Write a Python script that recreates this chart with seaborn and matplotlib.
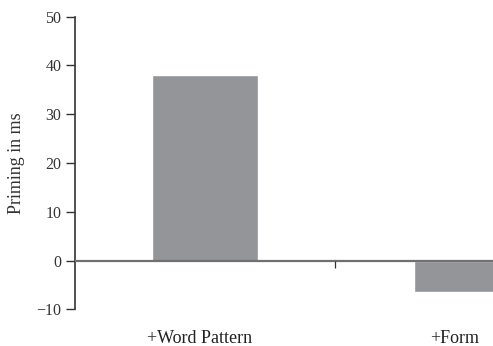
import pandas as pd
import matplotlib
matplotlib.use("Agg")
import matplotlib.pyplot as plt
import seaborn as sns

# Data
conditions = ["+Word Pattern", "+Form"]
priming_ms = [38.0, -6.4]
y_ticks = [-10, 0, 10, 20, 30, 40, 50]

df = pd.DataFrame({"condition": conditions, "priming": priming_ms})

sns.set_style("white")
plt.rcParams["font.family"] = ["Liberation Serif", "DejaVu Serif"]

fig = plt.figure(figsize=(4.93, 3.46), dpi=100)
ax = fig.add_axes([0.1515, 0.106, 0.8485, 0.846])

sns.barplot(data=df, x="condition", y="priming", color="#939598",
            saturation=1, width=0.405, ax=ax)

ax.axhline(0, color="#707070", lw=1.6, zorder=3)
# small divider tick on the zero line between the two conditions
ax.vlines(0.496, -1.5, 0, color="#333333", lw=0.9, zorder=3)

ax.set_xlim(-0.497, 1.099)
ax.set_ylim(-10, 50)
ax.set_yticks(y_ticks)
ax.set_yticklabels([str(t).replace("-", "\u2212") for t in y_ticks])
ax.set_xticks([-0.019, 0.954])
ax.set_xticklabels(conditions)

for s in ["top", "right", "bottom"]:
    ax.spines[s].set_visible(False)
ax.spines["left"].set_color("#333333")
ax.spines["left"].set_linewidth(1.2)

ax.tick_params(axis="y", length=6.5, width=1.0, color="#333333",
               labelsize=11.5, labelcolor="#333333", pad=3, left=True)
ax.tick_params(axis="x", length=0, pad=15, labelsize=13, labelcolor="#222222")

ax.set_xlabel("")
ax.set_ylabel("Priming in ms", fontsize=13, color="#333333", labelpad=8)

fig.savefig("out.png", dpi=100)
